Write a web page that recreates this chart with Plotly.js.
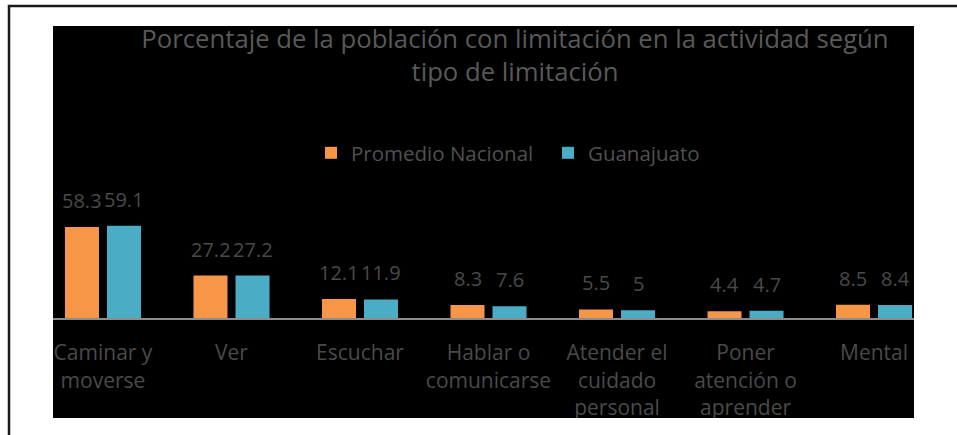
<!DOCTYPE html>
<html>
<head>
<meta charset="utf-8">
<script src="https://cdn.plot.ly/plotly-3.0.1.min.js"></script>
<style>html,body{margin:0;padding:0;background:#fff;}#chart{width:957px;height:435px;}</style>
</head>
<body>
<div id="chart"></div>
<script>
const categories = ["Caminar y<br>moverse", "Ver", "Escuchar", "Hablar o<br>comunicarse", "Atender el<br>cuidado<br>personal", "Poner<br>atención o<br>aprender", "Mental"];
const seriesNames = ["Promedio Nacional", "Guanajuato"];
const nacional = [58.3, 27.2, 12.1, 8.3, 5.5, 4.4, 8.5];
const guanajuato = [59.1, 27.2, 11.9, 7.6, 5, 4.7, 8.4];
const colors = ["#F79646", "#4BACC6"];

const W = 957, H = 435;
const L = 53, R = 914, T = 26, B = 318;
const X = px => (px - L) / (R - L);
const Y = py => (B - py) / (B - T);

const labelColor = "#4a4a4a";
const fontFam = "Open Sans, Noto Sans, sans-serif";

const traces = [nacional, guanajuato].map((vals, i) => ({
  type: "bar",
  name: seriesNames[i],
  x: categories,
  y: vals,
  marker: {color: colors[i], line: {width: 0}},
  hoverinfo: "none"
}));

const annotations = [];
[nacional, guanajuato].forEach((vals, i) => {
  vals.forEach((v, j) => {
    annotations.push({
      x: categories[j], y: v, xref: "x", yref: "y",
      text: String(v), showarrow: false,
      xshift: i === 0 ? -21 : 21, yshift: 11,
      yanchor: "bottom", xanchor: "center",
      font: {family: fontFam, size: 20, color: labelColor}
    });
  });
});

const layout = {
  width: W, height: H,
  margin: {l: L, r: W - R, t: T, b: H - B, pad: 0},
  paper_bgcolor: "#ffffff",
  plot_bgcolor: "#000000",
  barmode: "group",
  bargap: 0.346,
  bargroupgap: 0.19,
  showlegend: true,
  title: {
    text: "Porcentaje de la población con limitación en la actividad según<br>tipo de limitación",
    font: {family: fontFam, size: 25.7, color: "#595959"},
    x: X(515), xref: "paper", xanchor: "center",
    y: 1 - 48 / H, yref: "container", yanchor: "top"
  },
  legend: {
    orientation: "h",
    x: X(311), xanchor: "left",
    y: Y(133), yanchor: "top",
    bgcolor: "rgba(0,0,0,0)",
    font: {family: fontFam, size: 20.5, color: "#505050"},
    entrywidth: 192,
    traceorder: "normal"
  },
  xaxis: {
    type: "category",
    range: [-0.389, 6.311],
    showline: true, linecolor: "#8c8c8c", linewidth: 2,
    showgrid: false, zeroline: false,
    ticks: "",
    ticklabelstandoff: 15,
    tickfont: {family: fontFam, size: 21, color: labelColor},
    fixedrange: true
  },
  yaxis: {
    range: [0, 187],
    visible: false,
    showgrid: false, zeroline: false,
    fixedrange: true
  },
  annotations: annotations,
  shapes: [
    {type: "rect", xref: "paper", yref: "paper", x0: 0, x1: 1, y0: Y(418), y1: 1,
     fillcolor: "#000000", line: {width: 0}, layer: "below"},
    {type: "rect", xref: "paper", yref: "paper", x0: X(0), x1: X(W), y0: Y(H + 5), y1: Y(418),
     fillcolor: "#ffffff", line: {width: 0}, layer: "above"},
    {type: "path", xref: "paper", yref: "paper",
     path: `M ${X(9)} ${Y(H + 5)} L ${X(9)} ${Y(6)} L ${X(W + 5)} ${Y(6)}`,
     line: {color: "#1a1a1a", width: 2.5}, layer: "above"}
  ]
};

Plotly.newPlot("chart", traces, layout, {displayModeBar: false, staticPlot: true});
</script>
</body>
</html>
